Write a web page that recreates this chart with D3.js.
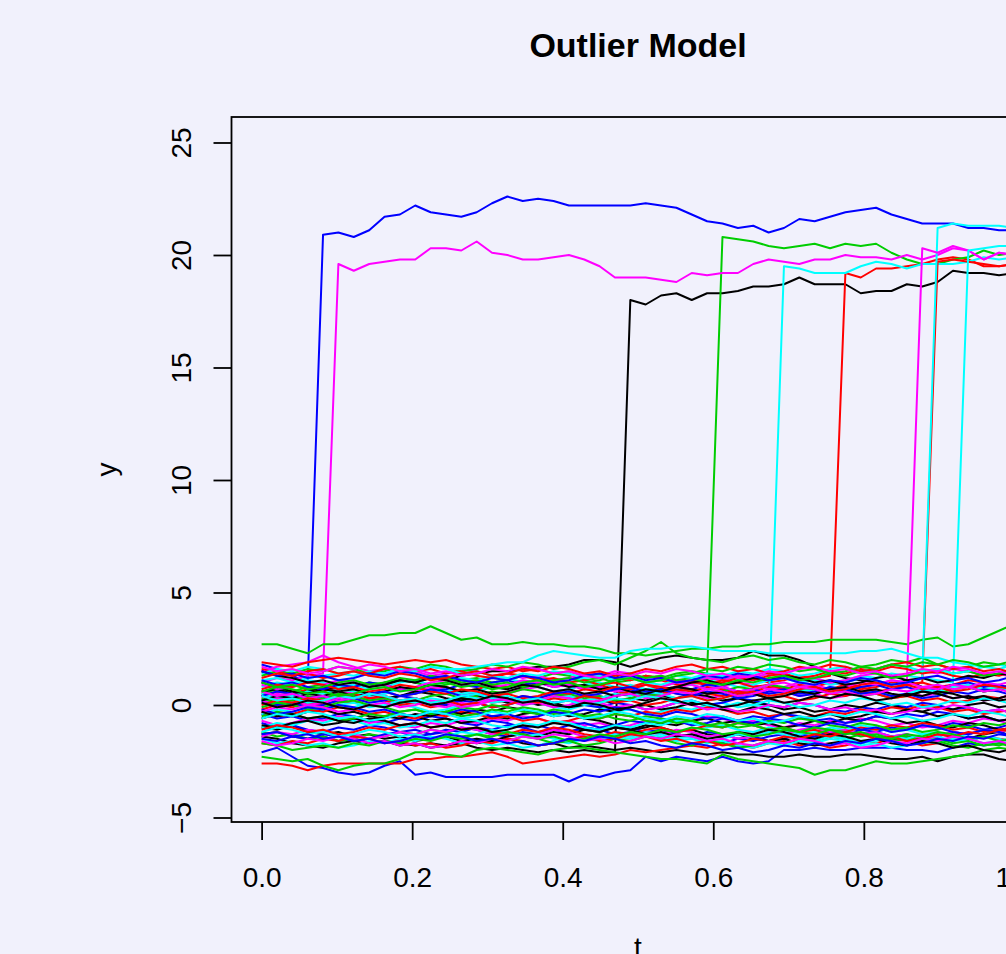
<!DOCTYPE html>
<html><head><meta charset="utf-8">
<script src="https://cdn.jsdelivr.net/npm/d3@7"></script>
<style>
html,body{margin:0;padding:0;background:#f1f1fc;}
svg{display:block;}
</style></head><body>
<svg id="chart" width="1006" height="954"></svg>
<script>
// ---- data ----
const tValues = [0,0.0204,0.0408,0.0612,0.0816,0.1020,0.1224,0.1429,0.1633,0.1837,0.2041,0.2245,0.2449,0.2653,0.2857,0.3061,0.3265,0.3469,0.3673,0.3878,0.4082,0.4286,0.4490,0.4694,0.4898,0.5102,0.5306,0.5510,0.5714,0.5918,0.6122,0.6327,0.6531,0.6735,0.6939,0.7143,0.7347,0.7551,0.7755,0.7959,0.8163,0.8367,0.8571,0.8776,0.8980,0.9184,0.9388,0.9592,0.9796,1.0];
const xTicks = [0,0.2,0.4,0.6,0.8,1.0];
const xTickLabels = ["0.0","0.2","0.4","0.6","0.8","1.0"];
const yTicks = [-5,0,5,10,15,20,25];
const yTickLabels = ["\u22125","0","5","10","15","20","25"];
const titleText = "Outlier Model";
const xLabel = "t";
const yLabel = "y";
const palette = ["#000000","#FF0000","#00CD00","#0000FF","#00FFFF","#FF00FF"];

const blackSeries = [
[-1.3,-1.2,-1.4,-1.5,-1.4,-1.6,-1.5,-1.7,-1.6,-1.8,-1.7,-1.9,-1.8,-1.7,-1.9,-2.0,-1.9,-2.0,-2.1,-2.0,-2.1,-2.0,-2.1,-2.1,18.0,17.8,18.2,18.3,18.0,18.3,18.3,18.4,18.6,18.6,18.7,19.0,18.7,18.7,18.7,18.3,18.4,18.4,18.7,18.6,18.8,19.3,19.2,19.2,19.1,19.2],
[0.6,0.7,0.5,0.6,0.8,0.7,0.9,0.8,1.0,1.1,1.0,1.2,1.1,1.3,1.4,1.5,1.5,1.6,1.7,1.7,1.8,2.0,2.0,1.9,1.7,1.9,2.1,2.2,2.1,2.0,2.0,2.1,2.4,2.2,2.2,2.0,1.7,1.4,1.2,1.1,1.0,0.9,1.1,0.8,0.7,0.9,0.8,0.6,0.7,0.8],
[-1.0,-1.1,-0.9,-1.2,-1.3,-1.2,-1.4,-1.3,-1.5,-1.4,-1.6,-1.5,-1.4,-1.6,-1.7,-1.6,-1.5,-1.7,-1.8,-1.7,-1.9,-1.8,-1.9,-2.0,-1.9,-2.0,-2.1,-2.0,-2.1,-2.2,-2.1,-2.2,-2.2,-2.3,-2.3,-2.2,-2.3,-2.3,-2.2,-2.2,-2.3,-2.4,-2.4,-2.3,-2.5,-2.3,-2.2,-2.2,-2.4,-2.5],
[-1.4,-1.5,-1.7,-1.8,-1.9,-1.7,-1.6,-1.7,-1.6,-1.7,-1.8,-1.7,-1.8,-1.6,-1.5,-1.6,-1.4,-1.3,-1.4,-1.2,-1.3,-1.1,-1.2,-1.0,-1.1,-0.9,-1.0,-1.2,-1.1,-1.3,-1.4,-1.3,-1.5,-1.6,-1.5,-1.7,-1.8,-1.7,-1.6,-1.7,-1.5,-1.6,-1.4,-1.5,-1.3,-1.4,-1.5,-1.3,-1.2,-1.4],
[1.0,0.8,0.6,0.5,0.7,0.6,0.4,0.5,0.3,0.4,0.6,0.5,0.3,0.2,0.4,0.3,0.1,0.2,0.0,0.1,-0.1,0.0,0.2,0.1,0.3,0.2,0.4,0.3,0.5,0.4,0.2,0.3,0.1,0.0,-0.2,-0.1,-0.3,-0.2,0.0,-0.1,0.1,0.0,-0.2,-0.3,-0.1,-0.2,0.0,0.1,-0.1,0.0],
[-0.6,-0.4,-0.5,-0.3,-0.2,-0.4,-0.3,-0.5,-0.6,-0.4,-0.5,-0.7,-0.6,-0.8,-0.7,-0.5,-0.6,-0.4,-0.3,-0.5,-0.4,-0.6,-0.7,-0.9,-1.1,-1.0,-0.8,-0.9,-0.7,-0.6,-0.8,-0.7,-0.9,-0.8,-1.0,-0.9,-0.7,-0.8,-0.6,-0.7,-0.5,-0.6,-0.8,-0.7,-0.9,-1.0,-0.8,-0.9,-1.1,-1.0],
[0.2,0.4,0.3,0.5,0.4,0.6,0.7,0.5,0.6,0.8,0.7,0.9,0.8,0.6,0.7,0.5,0.6,0.8,0.9,1.0,0.8,0.9,0.7,0.8,0.6,0.5,0.7,0.8,1.0,1.1,0.9,1.0,1.2,1.1,1.3,1.2,1.0,1.1,0.9,1.0,1.2,1.3,1.1,1.2,1.0,1.1,1.3,1.2,1.4,1.3],
[-0.9,-1.0,-0.8,-0.7,-0.9,-0.8,-0.6,-0.7,-0.5,-0.6,-0.4,-0.5,-0.3,-0.4,-0.2,-0.3,-0.1,-0.2,-0.4,-0.3,-0.5,-0.4,-0.2,-0.3,-0.1,0.0,-0.2,-0.1,0.1,0.0,-0.2,-0.3,-0.1,-0.2,-0.4,-0.3,-0.5,-0.4,-0.6,-0.5,-0.3,-0.4,-0.2,-0.3,-0.5,-0.4,-0.6,-0.5,-0.7,-0.6],
[1.5,1.3,1.2,1.0,1.1,0.9,1.0,0.8,0.9,1.1,1.0,1.2,1.1,0.9,1.0,0.8,0.7,0.9,0.8,0.6,0.7,0.5,0.6,0.4,0.5,0.7,0.6,0.8,0.7,0.5,0.6,0.4,0.5,0.3,0.4,0.6,0.5,0.7,0.8,0.6,0.7,0.5,0.4,0.6,0.5,0.3,0.4,0.2,0.3,0.5],
[-0.3,-0.5,-0.4,-0.6,-0.5,-0.7,-0.8,-0.6,-0.7,-0.9,-0.8,-1.0,-0.9,-1.1,-1.0,-1.2,-1.1,-0.9,-1.0,-0.8,-0.9,-1.1,-1.2,-1.0,-1.1,-1.3,-1.2,-1.4,-1.3,-1.5,-1.4,-1.2,-1.3,-1.1,-1.2,-1.4,-1.5,-1.3,-1.4,-1.6,-1.5,-1.7,-1.8,-1.6,-1.7,-1.9,-1.8,-2.0,-2.1,-1.9],
[0.1,-0.1,0.0,0.2,0.1,-0.1,-0.2,0.0,-0.1,0.1,0.2,0.0,0.1,0.3,0.2,0.4,0.3,0.1,0.2,0.0,-0.1,0.1,0.0,-0.2,-0.1,0.1,0.3,0.2,0.0,0.1,-0.1,0.0,0.2,0.3,0.1,0.2,0.4,0.3,0.5,0.4,0.2,0.3,0.5,0.4,0.6,0.5,0.3,0.4,0.2,0.3]
];

const redSeries = [
[0.4,0.6,0.5,0.7,0.6,0.8,0.7,0.5,0.6,0.4,0.5,0.7,0.8,0.6,0.7,0.9,0.8,1.0,0.9,1.1,1.0,0.8,0.9,0.7,0.8,1.0,1.1,0.9,1.0,1.2,1.1,1.3,1.2,1.0,1.1,1.3,1.2,1.3,19.2,19.0,19.4,19.4,19.5,19.6,19.8,19.9,19.8,19.5,19.5,19.6],
[-0.2,0.0,-0.1,0.1,0.0,0.2,0.1,0.3,0.2,0.0,0.1,-0.1,0.0,0.2,0.3,0.1,0.2,0.4,0.3,0.5,0.4,0.2,0.3,0.5,0.6,0.4,0.5,0.7,0.6,0.8,0.7,0.5,0.6,0.8,0.7,0.9,0.8,1.0,0.9,0.7,0.8,1.0,0.9,1.0,19.7,19.8,19.7,19.6,19.5,19.6],
[-2.6,-2.6,-2.7,-2.9,-2.7,-2.6,-2.6,-2.6,-2.6,-2.6,-2.4,-2.4,-2.3,-2.3,-2.2,-2.1,-2.3,-2.6,-2.5,-2.4,-2.3,-2.2,-2.3,-2.2,-2.0,-2.1,-2.0,-1.9,-1.8,-1.9,-1.7,-1.8,-1.9,-1.7,-1.6,-1.8,-1.7,-1.9,-1.8,-1.6,-1.7,-1.5,-1.6,-1.8,-1.7,-1.5,-1.6,-1.4,-1.5,-1.6],
[1.9,1.8,1.7,1.9,2.0,2.1,2.0,1.9,1.8,1.9,2.0,1.9,2.0,1.8,1.7,1.6,1.7,1.5,1.6,1.4,1.5,1.3,1.4,1.2,1.1,1.3,1.2,1.0,1.1,0.9,1.0,1.2,1.1,1.3,1.4,1.2,1.3,1.5,1.4,1.6,1.5,1.7,1.6,1.4,1.5,1.3,1.2,1.4,1.3,1.5],
[1.6,1.5,1.3,1.4,1.2,1.3,1.5,1.4,1.6,1.7,1.5,1.6,1.4,1.5,1.3,1.2,1.4,1.3,1.1,1.2,1.0,1.1,0.9,1.0,0.8,0.9,0.7,0.8,1.0,0.9,1.1,1.0,0.8,0.9,0.7,0.6,0.8,0.7,0.9,0.8,0.6,0.7,0.9,1.0,0.8,0.9,1.1,1.0,0.8,0.9],
[-0.3,-0.5,-0.4,-0.2,-0.3,-0.1,-0.2,-0.4,-0.3,-0.5,-0.6,-0.4,-0.5,-0.3,-0.4,-0.6,-0.5,-0.7,-0.6,-0.8,-0.7,-0.5,-0.6,-0.4,-0.5,-0.3,-0.4,-0.2,-0.3,-0.1,-0.2,-0.4,-0.3,-0.5,-0.4,-0.6,-0.5,-0.3,-0.4,-0.2,-0.3,-0.1,-0.2,0.0,-0.1,-0.3,-0.2,-0.4,-0.3,-0.2],
[0.7,0.9,0.8,1.0,0.9,0.7,0.8,0.6,0.7,0.9,0.8,0.6,0.5,0.7,0.6,0.4,0.5,0.3,0.4,0.6,0.5,0.7,0.6,0.8,0.7,0.9,0.8,0.6,0.7,0.5,0.4,0.6,0.5,0.3,0.4,0.2,0.3,0.5,0.4,0.6,0.5,0.3,0.4,0.2,0.3,0.1,0.2,0.4,0.3,0.5],
[-1.1,-0.9,-1.0,-1.2,-1.1,-1.3,-1.2,-1.0,-1.1,-0.9,-0.8,-1.0,-0.9,-1.1,-1.0,-1.2,-1.3,-1.1,-1.2,-1.0,-1.1,-1.3,-1.4,-1.2,-1.3,-1.1,-1.0,-1.2,-1.1,-0.9,-1.0,-0.8,-0.9,-1.1,-1.0,-1.2,-1.1,-1.3,-1.2,-1.0,-1.1,-0.9,-1.0,-0.8,-0.9,-1.1,-1.0,-1.2,-1.1,-1.0],
[0.0,0.2,0.1,0.3,0.2,0.4,0.5,0.3,0.4,0.2,0.3,0.1,0.2,0.0,0.1,-0.1,0.0,0.2,0.1,0.3,0.2,0.4,0.3,0.1,0.2,0.0,0.1,0.3,0.4,0.2,0.3,0.5,0.6,0.4,0.5,0.7,0.8,0.6,0.7,0.9,1.0,0.8,0.9,0.7,0.8,0.6,0.7,0.9,0.8,0.7],
[-1.7,-1.8,-1.6,-1.7,-1.5,-1.6,-1.4,-1.5,-1.7,-1.6,-1.8,-1.7,-1.9,-1.8,-1.6,-1.7,-1.5,-1.6,-1.8,-1.7,-1.5,-1.4,-1.6,-1.5,-1.3,-1.4,-1.6,-1.5,-1.7,-1.6,-1.8,-1.7,-1.5,-1.6,-1.4,-1.5,-1.3,-1.4,-1.2,-1.3,-1.5,-1.4,-1.6,-1.5,-1.3,-1.4,-1.2,-1.3,-1.1,-1.2],
[1.2,1.4,1.3,1.5,1.6,1.4,1.5,1.3,1.2,1.4,1.3,1.1,1.2,1.4,1.5,1.3,1.4,1.6,1.5,1.7,1.6,1.4,1.5,1.3,1.4,1.6,1.5,1.7,1.8,1.6,1.7,1.5,1.6,1.4,1.5,1.7,1.6,1.8,1.7,1.5,1.6,1.8,1.9,1.7,1.8,1.6,1.7,1.5,1.6,1.4]
];

const greenSeries = [
[0.5,0.7,0.6,0.8,0.9,0.7,0.8,1.0,0.9,1.1,1.0,0.8,0.9,1.1,1.2,1.0,1.1,1.3,1.2,1.4,1.3,1.1,1.2,1.0,1.1,1.3,1.2,1.4,1.5,1.4,20.8,20.7,20.6,20.4,20.3,20.4,20.5,20.3,20.5,20.4,20.5,20.1,19.8,19.6,19.6,19.8,19.9,20.2,20.0,20.1],
[2.7,2.7,2.5,2.3,2.7,2.7,2.9,3.1,3.1,3.2,3.2,3.5,3.2,2.9,3.0,2.7,2.7,2.8,2.7,2.7,2.6,2.6,2.5,2.3,2.3,2.2,2.3,2.4,2.5,2.5,2.6,2.6,2.7,2.7,2.8,2.8,2.8,2.9,2.9,2.9,2.9,2.8,2.7,2.9,3.0,2.6,2.7,3.0,3.3,3.6],
[-2.3,-2.4,-2.5,-2.4,-2.7,-2.9,-2.7,-2.6,-2.6,-2.4,-2.1,-2.1,-2.2,-2.3,-2.0,-1.9,-2.0,-2.1,-2.2,-2.0,-1.9,-1.9,-2.0,-2.1,-2.2,-2.3,-2.4,-2.4,-2.5,-2.6,-2.2,-2.4,-2.5,-2.6,-2.7,-2.8,-3.1,-2.9,-2.9,-2.7,-2.5,-2.6,-2.6,-2.5,-2.4,-2.3,-2.2,-2.0,-1.9,-2.0],
[1.3,1.5,1.4,1.6,1.5,1.7,1.6,1.4,1.5,1.7,1.6,1.8,1.7,1.5,1.6,1.8,1.7,1.9,1.8,1.6,1.7,1.9,2.0,1.8,2.1,2.4,2.8,2.3,2.1,2.0,1.9,2.1,2.2,2.0,2.1,1.9,1.8,2.0,1.9,1.7,1.8,2.0,1.9,2.1,1.8,1.6,1.7,1.9,1.8,1.7],
[0.3,0.1,0.2,0.4,0.3,0.5,0.4,0.2,0.3,0.1,0.2,0.4,0.5,0.3,0.4,0.6,0.5,0.7,0.6,0.4,0.5,0.3,0.4,0.2,0.3,0.5,0.4,0.6,0.7,0.5,0.6,0.8,0.7,0.9,0.8,0.6,0.7,0.5,0.6,0.4,0.5,0.3,0.4,0.6,0.5,0.7,0.8,0.6,0.7,0.9],
[-1.2,-1.4,-1.3,-1.5,-1.4,-1.6,-1.5,-1.3,-1.4,-1.2,-1.3,-1.1,-1.2,-1.4,-1.3,-1.5,-1.6,-1.4,-1.5,-1.7,-1.6,-1.8,-1.7,-1.5,-1.6,-1.4,-1.5,-1.7,-1.8,-1.6,-1.7,-1.9,-1.8,-1.6,-1.7,-1.5,-1.6,-1.4,-1.5,-1.3,-1.4,-1.6,-1.5,-1.7,-1.6,-1.8,-1.9,-1.7,-1.8,-1.6],
[1.0,0.8,0.9,0.7,0.8,1.0,1.1,0.9,1.0,1.2,1.1,1.3,1.2,1.0,1.1,0.9,1.0,0.8,0.9,1.1,1.2,1.0,1.1,1.3,1.4,1.2,1.3,1.1,1.2,1.0,0.9,1.1,1.0,1.2,1.3,1.1,1.2,1.4,1.3,1.5,1.4,1.2,1.3,1.5,1.6,1.4,1.5,1.3,1.4,1.6],
[-0.5,-0.3,-0.4,-0.6,-0.5,-0.7,-0.6,-0.4,-0.5,-0.3,-0.2,-0.4,-0.3,-0.5,-0.4,-0.2,-0.3,-0.1,-0.2,-0.4,-0.3,-0.5,-0.6,-0.4,-0.5,-0.7,-0.8,-0.6,-0.7,-0.9,-0.8,-1.0,-0.9,-0.7,-0.8,-0.6,-0.7,-0.9,-1.0,-0.8,-0.9,-1.1,-1.0,-1.2,-1.1,-0.9,-1.0,-0.8,-0.9,-0.7],
[-0.1,0.1,0.0,-0.2,-0.1,0.1,0.2,0.0,-0.1,-0.3,-0.2,-0.4,-0.3,-0.1,-0.2,0.0,-0.1,-0.3,-0.4,-0.2,-0.3,-0.5,-0.4,-0.6,-0.7,-0.5,-0.6,-0.8,-0.7,-0.9,-1.0,-0.8,-0.9,-1.1,-1.0,-1.2,-1.3,-1.1,-1.2,-1.4,-1.3,-1.5,-1.4,-1.6,-1.5,-1.7,-1.6,-1.8,-1.7,-1.9],
[-1.7,-1.8,-2.0,-1.9,-1.8,-1.9,-1.7,-1.8,-1.6,-1.7,-1.5,-1.6,-1.4,-1.5,-1.3,-1.4,-1.2,-1.3,-1.5,-1.4,-1.6,-1.5,-1.3,-1.4,-1.2,-1.3,-1.1,-1.2,-1.0,-1.1,-1.3,-1.2,-1.4,-1.3,-1.1,-1.2,-1.0,-1.1,-1.3,-1.2,-1.4,-1.5,-1.3,-1.4,-1.2,-1.3,-1.5,-1.4,-1.6,-1.5],
[0.6,0.8,0.7,0.5,0.6,0.4,0.5,0.7,0.8,0.6,0.7,0.9,1.0,0.8,0.9,0.7,0.8,1.0,1.1,0.9,1.0,0.8,0.9,1.1,1.2,1.0,1.1,1.3,1.4,1.6,1.5,1.7,1.6,1.8,1.7,1.5,1.6,1.4,1.5,1.7,1.6,1.8,1.7,1.9,1.8,2.0,1.9,1.7,1.8,2.0]
];

const blueSeries = [
[1.8,1.6,1.3,1.0,20.9,21.0,20.8,21.1,21.7,21.8,22.2,21.9,21.8,21.7,21.9,22.3,22.6,22.4,22.5,22.4,22.2,22.2,22.2,22.2,22.2,22.3,22.2,22.1,21.8,21.5,21.4,21.2,21.3,21.0,21.2,21.6,21.5,21.7,21.9,22.0,22.1,21.8,21.6,21.4,21.4,21.4,21.2,21.2,21.1,21.1],
[-2.1,-1.9,-2.3,-2.7,-2.8,-3.0,-3.1,-3.0,-2.7,-2.5,-3.1,-3.0,-3.2,-3.2,-3.2,-3.2,-3.1,-3.1,-3.1,-3.1,-3.4,-3.1,-3.2,-3.0,-2.9,-2.3,-2.5,-2.3,-2.4,-2.5,-2.3,-2.5,-2.6,-2.5,-2.0,-2.0,-1.9,-2.0,-2.0,-1.9,-1.9,-1.9,-2.0,-2.0,-2.1,-1.9,-1.7,-1.8,-1.7,-1.7],
[-0.8,-1.0,-0.9,-1.1,-1.2,-1.0,-1.1,-0.9,-1.0,-1.2,-1.1,-1.3,-1.2,-1.0,-1.1,-1.3,-1.4,-1.2,-1.3,-1.1,-1.2,-1.0,-1.1,-0.9,-1.0,-1.2,-1.1,-1.3,-1.4,-1.2,-1.3,-1.5,-1.4,-1.6,-1.5,-1.3,-1.4,-1.2,-1.3,-1.1,-1.2,-1.4,-1.3,-1.5,-1.4,-1.2,-1.3,-1.1,-1.2,-1.0],
[0.2,0.0,0.1,-0.1,0.0,0.2,0.3,0.1,0.2,0.4,0.3,0.1,0.0,0.2,0.1,-0.1,0.0,0.2,0.3,0.1,0.2,0.0,-0.1,0.1,0.0,-0.2,-0.1,0.1,0.2,0.0,0.1,0.3,0.2,0.0,-0.1,0.1,0.0,-0.2,-0.3,-0.1,-0.2,0.0,-0.1,0.1,0.0,-0.2,-0.1,-0.3,-0.2,-0.4],
[-0.4,-0.6,-0.5,-0.7,-0.6,-0.4,-0.5,-0.7,-0.8,-0.6,-0.7,-0.5,-0.6,-0.8,-0.9,-0.7,-0.8,-1.0,-0.9,-1.1,-1.2,-1.0,-1.1,-1.3,-1.2,-1.4,-1.5,-1.3,-1.4,-1.6,-1.7,-1.5,-1.6,-1.4,-1.3,-1.5,-1.4,-1.2,-1.1,-1.3,-1.2,-1.0,-1.1,-0.9,-1.0,-0.8,-0.9,-1.1,-1.0,-0.8],
[1.1,0.9,1.0,0.8,0.7,0.9,0.8,1.0,0.9,0.7,0.8,0.6,0.7,0.9,0.8,1.0,1.1,0.9,1.0,0.8,0.9,0.7,0.8,0.6,0.7,0.5,0.6,0.8,0.7,0.9,0.8,0.6,0.7,0.5,0.6,0.4,0.5,0.7,0.6,0.8,0.9,0.7,0.8,0.6,0.7,0.9,1.0,0.8,0.9,0.7],
[-1.5,-1.6,-1.4,-1.5,-1.3,-1.4,-1.6,-1.5,-1.3,-1.2,-1.4,-1.3,-1.1,-1.2,-1.0,-1.1,-0.9,-1.0,-1.2,-1.1,-0.9,-0.8,-1.0,-0.9,-0.7,-0.8,-0.6,-0.7,-0.9,-0.8,-0.6,-0.7,-0.5,-0.6,-0.4,-0.5,-0.7,-0.6,-0.8,-0.7,-0.5,-0.6,-0.4,-0.5,-0.3,-0.4,-0.6,-0.5,-0.7,-0.6],
[0.4,0.6,0.5,0.3,0.4,0.2,0.3,0.5,0.6,0.4,0.5,0.7,0.6,0.4,0.5,0.3,0.2,0.4,0.3,0.5,0.6,0.4,0.5,0.7,0.8,0.6,0.7,0.5,0.4,0.6,0.5,0.3,0.4,0.6,0.7,0.5,0.6,0.8,0.7,0.5,0.6,0.4,0.5,0.3,0.4,0.6,0.5,0.7,0.6,0.4],
[-0.2,-0.4,-0.3,-0.1,-0.2,0.0,-0.1,-0.3,-0.2,-0.4,-0.5,-0.3,-0.4,-0.2,-0.3,-0.5,-0.4,-0.6,-0.5,-0.3,-0.4,-0.2,-0.3,-0.1,-0.2,-0.4,-0.5,-0.3,-0.4,-0.6,-0.5,-0.7,-0.8,-0.6,-0.7,-0.9,-1.0,-0.8,-0.9,-1.1,-1.0,-1.2,-1.1,-0.9,-1.0,-1.2,-1.3,-1.1,-1.2,-1.4],
[1.5,1.3,1.4,1.2,1.3,1.1,1.2,1.4,1.3,1.5,1.4,1.2,1.3,1.1,1.0,1.2,1.1,1.3,1.2,1.0,1.1,1.3,1.4,1.2,1.3,1.1,1.2,1.0,1.1,1.3,1.2,1.4,1.3,1.1,1.2,1.0,0.9,1.1,1.0,1.2,1.1,0.9,1.0,1.2,1.3,1.1,1.2,1.0,1.1,1.3],
[-1.3,-1.2,-1.4,-1.3,-1.5,-1.4,-1.6,-1.5,-1.7,-1.6,-1.4,-1.5,-1.3,-1.4,-1.6,-1.5,-1.7,-1.6,-1.8,-1.7,-1.5,-1.6,-1.4,-1.5,-1.7,-1.6,-1.8,-1.9,-1.7,-1.8,-2.0,-1.9,-2.1,-2.0,-1.8,-1.9,-1.7,-1.8,-1.6,-1.7,-1.5,-1.6,-1.8,-1.7,-1.5,-1.6,-1.4,-1.5,-1.3,-1.4]
];

const cyanSeries = [
[0.2,0.0,0.1,-0.1,-0.2,0.0,-0.1,0.1,0.2,0.0,-0.1,-0.3,-0.2,0.0,0.1,-0.1,0.0,0.2,0.1,-0.1,-0.2,0.0,-0.1,-0.3,-0.2,-0.4,-0.3,-0.1,-0.2,0.0,0.1,-0.1,0.0,-0.1,19.5,19.4,19.2,19.2,19.2,19.5,19.7,19.6,19.4,19.6,19.6,19.6,19.7,19.9,19.8,19.9],
[0.8,1.0,0.9,1.1,1.0,0.8,0.9,0.7,0.8,1.0,1.1,0.9,1.0,1.2,1.1,1.3,1.2,1.0,1.1,0.9,1.0,1.2,1.3,1.1,1.2,1.0,0.9,1.1,1.0,1.2,1.3,1.1,1.2,1.4,1.3,1.1,1.2,1.0,1.1,1.3,1.2,1.4,1.3,1.2,21.2,21.4,21.3,21.3,21.3,21.2],
[0.5,0.3,0.4,0.6,0.5,0.7,0.6,0.4,0.5,0.7,0.8,0.6,0.7,0.5,0.6,0.8,0.7,0.9,0.8,0.6,0.7,0.9,1.0,0.8,0.9,0.7,0.8,1.0,0.9,1.1,1.0,0.8,0.9,1.1,1.2,1.0,1.1,0.9,1.0,1.2,1.1,0.9,1.0,1.2,1.1,1.0,20.2,20.3,20.4,20.4],
[1.1,1.2,1.0,1.2,1.3,1.4,1.3,1.5,1.4,1.6,1.5,1.7,1.6,1.6,1.7,1.8,1.9,1.9,2.2,2.4,2.3,2.2,2.1,2.1,2.4,2.5,2.5,2.6,2.6,2.5,2.4,2.4,2.4,2.3,2.3,2.3,2.3,2.3,2.3,2.4,2.4,2.5,2.3,2.1,2.1,1.9,1.8,1.7,1.8,1.6],
[-1.5,-1.7,-1.6,-1.8,-1.7,-1.9,-1.8,-1.6,-1.7,-1.5,-1.6,-1.4,-1.5,-1.7,-1.6,-1.8,-1.7,-1.9,-1.8,-1.6,-1.7,-1.5,-1.6,-1.4,-1.5,-1.3,-1.4,-1.6,-1.5,-1.7,-1.6,-1.8,-1.9,-1.7,-1.8,-1.6,-1.7,-1.5,-1.6,-1.8,-1.7,-1.9,-1.8,-1.6,-1.7,-1.5,-1.6,-1.4,-1.5,-1.7],
[-0.4,-0.2,-0.3,-0.1,-0.2,0.0,0.1,-0.1,0.0,0.2,0.1,0.3,0.2,0.4,0.3,0.1,0.2,0.0,0.1,0.3,0.4,0.2,0.3,0.5,0.4,0.6,0.5,0.3,0.4,0.2,0.3,0.5,0.6,0.4,0.5,0.7,0.6,0.8,0.7,0.5,0.6,0.4,0.5,0.7,0.6,0.8,0.9,0.7,0.8,0.6],
[-1.0,-0.8,-0.9,-0.7,-0.8,-0.6,-0.7,-0.9,-0.8,-1.0,-0.9,-0.7,-0.8,-0.6,-0.7,-0.9,-1.0,-0.8,-0.9,-0.7,-0.8,-1.0,-1.1,-0.9,-1.0,-0.8,-0.9,-0.7,-0.8,-1.0,-0.9,-1.1,-1.2,-1.0,-1.1,-1.3,-1.2,-1.0,-1.1,-0.9,-1.0,-1.2,-1.1,-1.3,-1.2,-1.4,-1.3,-1.1,-1.2,-1.0],
[1.4,1.6,1.5,1.7,1.6,1.4,1.5,1.3,1.4,1.6,1.5,1.7,1.6,1.4,1.5,1.3,1.2,1.4,1.3,1.5,1.4,1.2,1.3,1.1,1.2,1.0,1.1,1.3,1.2,1.4,1.3,1.5,1.4,1.6,1.5,1.3,1.4,1.6,1.7,1.5,1.6,1.8,1.7,1.5,1.6,1.4,1.5,1.7,1.6,1.8],
[-1.2,-1.0,-1.1,-1.3,-1.2,-1.4,-1.3,-1.1,-1.2,-1.4,-1.3,-1.5,-1.4,-1.2,-1.3,-1.1,-1.2,-1.4,-1.3,-1.5,-1.6,-1.4,-1.5,-1.3,-1.4,-1.2,-1.3,-1.5,-1.4,-1.6,-1.5,-1.3,-1.4,-1.2,-1.3,-1.5,-1.6,-1.4,-1.5,-1.7,-1.6,-1.4,-1.5,-1.3,-1.4,-1.6,-1.5,-1.7,-1.6,-1.4],
[0.4,0.2,0.3,0.1,0.2,0.4,0.3,0.5,0.4,0.2,0.3,0.1,0.2,0.4,0.5,0.3,0.4,0.2,0.3,0.1,0.2,0.0,0.1,0.3,0.2,0.4,0.3,0.1,0.2,0.0,-0.1,0.1,0.0,0.2,0.1,-0.1,0.0,0.2,0.1,0.3,0.2,0.0,0.1,-0.1,0.0,0.2,0.1,0.3,0.2,0.0],
[-0.6,-0.4,-0.5,-0.3,-0.4,-0.6,-0.5,-0.7,-0.6,-0.4,-0.5,-0.3,-0.4,-0.6,-0.5,-0.3,-0.4,-0.2,-0.3,-0.5,-0.4,-0.6,-0.5,-0.3,-0.4,-0.6,-0.7,-0.5,-0.6,-0.4,-0.5,-0.7,-0.6,-0.8,-0.7,-0.5,-0.6,-0.4,-0.5,-0.3,-0.4,-0.6,-0.5,-0.7,-0.6,-0.4,-0.5,-0.3,-0.4,-0.6]
];

const magentaSeries = [
[1.0,1.2,1.1,1.3,1.4,19.6,19.3,19.6,19.7,19.8,19.8,20.3,20.3,20.2,20.6,20.1,20.0,19.8,19.8,19.9,20.0,19.8,19.5,19.0,19.0,19.0,18.9,18.8,19.2,19.1,19.2,19.2,19.6,19.8,19.7,19.6,19.8,19.8,20.0,19.9,19.9,19.8,20.0,19.8,20.0,20.3,20.2,19.8,20.1,20.0],
[0.3,0.5,0.4,0.2,0.3,0.5,0.6,0.4,0.5,0.7,0.6,0.8,0.7,0.5,0.6,0.4,0.5,0.7,0.8,0.6,0.7,0.9,0.8,0.6,0.7,0.5,0.6,0.8,0.9,0.7,0.8,1.0,0.9,0.7,0.8,1.0,1.1,0.9,1.0,0.8,0.9,1.1,1.0,20.3,20.1,20.4,20.2,19.8,20.1,20.0],
[1.5,1.7,1.8,1.9,2.2,1.9,1.7,1.5,1.6,1.4,1.5,1.3,1.4,1.6,1.5,1.3,1.4,1.2,1.3,1.1,1.2,1.4,1.3,1.5,1.4,1.2,1.3,1.1,1.0,1.2,1.1,1.3,1.2,1.4,1.3,1.1,1.2,1.0,1.1,1.3,1.4,1.2,1.3,1.5,1.4,1.6,1.5,1.3,1.4,1.2],
[0.1,0.3,0.2,0.0,0.1,0.3,0.4,0.2,0.3,0.1,0.2,0.0,-0.1,0.1,0.0,0.2,0.3,0.1,0.2,0.4,0.3,0.5,0.4,0.2,0.3,0.5,0.4,0.6,0.5,0.3,0.4,0.6,0.7,0.5,0.6,0.4,0.5,0.3,0.4,0.6,0.5,0.7,0.6,0.4,0.5,0.3,0.4,0.2,0.3,0.5],
[-0.7,-0.9,-0.8,-0.6,-0.7,-0.5,-0.6,-0.8,-0.7,-0.9,-1.0,-0.8,-0.9,-0.7,-0.8,-0.6,-0.7,-0.5,-0.6,-0.8,-0.7,-0.9,-0.8,-1.0,-0.9,-0.7,-0.8,-0.6,-0.7,-0.5,-0.6,-0.8,-0.7,-0.9,-1.0,-0.8,-0.9,-0.7,-0.8,-0.6,-0.7,-0.9,-0.8,-1.0,-0.9,-0.7,-0.8,-0.6,-0.7,-0.9],
[0.9,0.7,0.8,1.0,0.9,1.1,1.0,0.8,0.9,0.7,0.8,1.0,1.1,0.9,1.0,0.8,0.9,1.1,1.0,0.8,0.9,0.7,0.8,0.6,0.7,0.9,0.8,1.0,0.9,0.7,0.8,0.6,0.7,0.9,1.0,0.8,0.9,0.7,0.8,1.0,0.9,1.1,1.0,0.8,0.9,0.7,0.8,1.0,0.9,1.1],
[-1.4,-1.2,-1.3,-1.1,-1.2,-1.4,-1.3,-1.5,-1.4,-1.2,-1.3,-1.1,-1.2,-1.0,-1.1,-1.3,-1.2,-1.4,-1.3,-1.1,-1.2,-1.4,-1.5,-1.3,-1.4,-1.2,-1.3,-1.1,-1.2,-1.4,-1.3,-1.5,-1.4,-1.2,-1.3,-1.1,-1.0,-1.2,-1.1,-1.3,-1.2,-1.4,-1.3,-1.5,-1.4,-1.2,-1.3,-1.1,-1.2,-1.0],
[0.6,0.4,0.5,0.3,0.4,0.2,0.3,0.5,0.4,0.2,0.3,0.1,0.2,0.0,0.1,0.3,0.2,0.0,0.1,-0.1,0.0,0.2,0.1,-0.1,0.0,-0.2,-0.1,0.1,0.0,-0.2,-0.1,-0.3,-0.2,0.0,-0.1,0.1,0.0,-0.2,-0.1,-0.3,-0.2,-0.4,-0.3,-0.1,-0.2,0.0,-0.1,-0.3,-0.2,-0.4],
[-0.3,-0.1,-0.2,0.0,-0.1,-0.3,-0.2,0.0,0.1,-0.1,0.0,0.2,0.1,-0.1,0.0,0.2,0.3,0.1,0.2,0.4,0.3,0.1,0.2,0.4,0.5,0.3,0.4,0.6,0.5,0.7,0.6,0.4,0.5,0.7,0.6,0.8,0.7,0.5,0.6,0.4,0.5,0.7,0.6,0.8,0.7,0.9,0.8,0.6,0.7,0.5],
[-1.6,-1.8,-1.7,-1.5,-1.6,-1.4,-1.5,-1.7,-1.6,-1.8,-1.7,-1.9,-1.8,-1.6,-1.7,-1.5,-1.6,-1.4,-1.5,-1.3,-1.4,-1.6,-1.5,-1.7,-1.6,-1.4,-1.5,-1.3,-1.4,-1.6,-1.5,-1.7,-1.8,-1.6,-1.7,-1.5,-1.6,-1.8,-1.7,-1.9,-1.8,-1.6,-1.7,-1.5,-1.6,-1.4,-1.5,-1.7,-1.6,-1.8],
[1.7,1.5,1.6,1.4,1.5,1.7,1.6,1.8,1.7,1.5,1.6,1.4,1.5,1.3,1.4,1.6,1.5,1.7,1.6,1.4,1.5,1.3,1.2,1.4,1.3,1.5,1.4,1.6,1.5,1.3,1.4,1.2,1.3,1.5,1.4,1.6,1.7,1.5,1.6,1.4,1.5,1.3,1.4,1.6,1.5,1.7,1.6,1.4,1.5,1.3]
];

// ---- drawing ----
const groups = [blackSeries, redSeries, greenSeries, blueSeries, cyanSeries, magentaSeries];
const curves = [];
const nMax = d3.max(groups, g => g.length);
for (let j = 0; j < nMax; j++) {
  groups.forEach((g, c) => { if (g[j]) curves.push({values: g[j], color: palette[c]}); });
}

const W = 1006, H = 954;
const FONT = '"Liberation Sans", Arial, Helvetica, sans-serif';
const svg = d3.select("#chart");
svg.append("rect").attr("width", W).attr("height", H).attr("fill", "#f1f1fc");

const x = d3.scaleLinear().domain([-0.04, 1.04]).range([231.5, 1044.5]);
const y = d3.scaleLinear().domain([-5.2, 26.133]).range([822, 117]);

svg.append("defs").append("clipPath").attr("id", "plotclip")
  .append("rect").attr("x", x.range()[0]).attr("y", y.range()[1])
  .attr("width", x.range()[1] - x.range()[0]).attr("height", y.range()[0] - y.range()[1]);

const line = d3.line().x((d, i) => x(tValues[i])).y(d => y(d));
svg.append("g").attr("clip-path", "url(#plotclip)")
  .selectAll("path").data(curves).join("path")
  .attr("d", d => line(d.values))
  .attr("fill", "none")
  .attr("stroke", d => d.color)
  .attr("stroke-width", 2)
  .attr("stroke-linejoin", "round");

// box
svg.append("rect")
  .attr("x", x.range()[0]).attr("y", y.range()[1])
  .attr("width", x.range()[1] - x.range()[0]).attr("height", y.range()[0] - y.range()[1])
  .attr("fill", "none").attr("stroke", "#000").attr("stroke-width", 1.8);

// y axis
const gy = svg.append("g").attr("transform", `translate(${x.range()[0]},0)`)
  .call(d3.axisLeft(y).tickValues(yTicks).tickFormat((d, i) => yTickLabels[i]).tickSize(18));
gy.select(".domain").remove();
gy.attr("font-size", 28).attr("font-family", FONT);
gy.selectAll(".tick line").attr("stroke", "#000").attr("stroke-width", 1.8);
gy.selectAll(".tick text")
  .attr("transform", "rotate(-90)")
  .attr("x", 0).attr("y", -41).attr("dy", null)
  .attr("text-anchor", "middle").attr("fill", "#000");

// x axis
const gx = svg.append("g").attr("transform", `translate(0,${y.range()[0]})`)
  .call(d3.axisBottom(x).tickValues(xTicks).tickFormat((d, i) => xTickLabels[i]).tickSize(18));
gx.select(".domain").remove();
gx.attr("font-size", 28).attr("font-family", FONT);
gx.selectAll(".tick line").attr("stroke", "#000").attr("stroke-width", 1.8);
gx.selectAll(".tick text").attr("y", 65).attr("dy", null).attr("fill", "#000");

// title and labels
const cx = (x.range()[0] + x.range()[1]) / 2;
svg.append("text").attr("x", cx).attr("y", 57).attr("text-anchor", "middle")
  .attr("font-family", FONT).attr("font-weight", "bold").attr("font-size", 34).text(titleText);
svg.append("text").attr("x", cx).attr("y", 957).attr("text-anchor", "middle")
  .attr("font-family", FONT).attr("font-size", 28).text(xLabel);
svg.append("text")
  .attr("transform", `translate(116,${(y.range()[0] + y.range()[1]) / 2}) rotate(-90)`)
  .attr("text-anchor", "middle").attr("font-family", FONT).attr("font-size", 28).text(yLabel);
</script>
</body></html>
